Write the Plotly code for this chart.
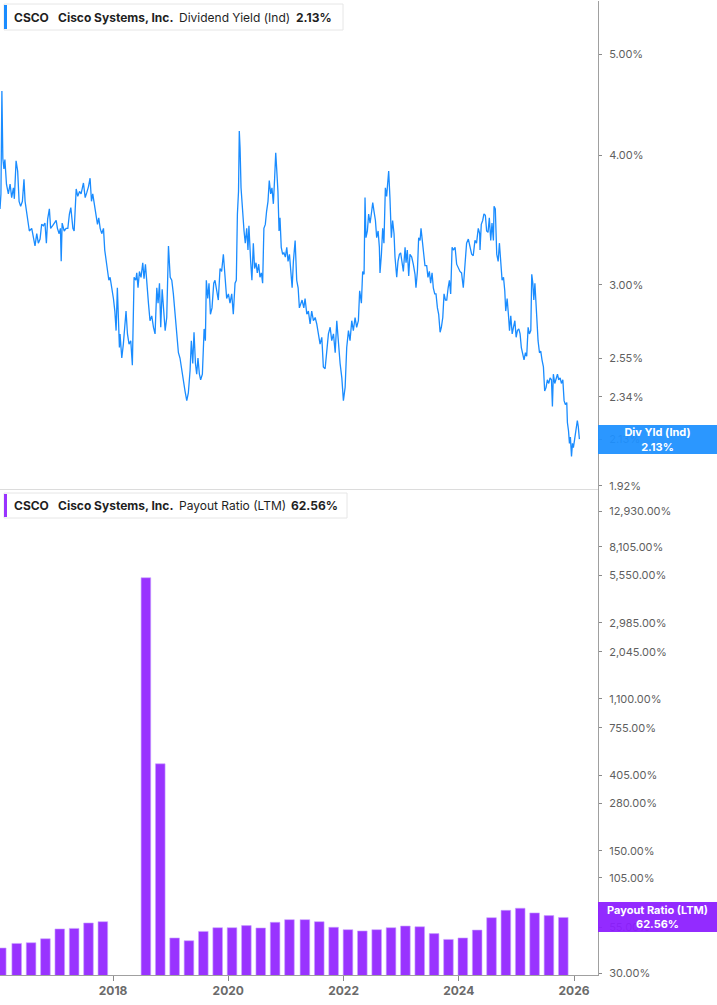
import math
import plotly.graph_objects as go

# ---------------- data ----------------
yield_dates = [
"2016-01-15","2016-01-21","2016-01-27","2016-02-02","2016-02-09","2016-02-15","2016-02-25","2016-03-08","2016-03-19","2016-03-29",
"2016-04-09","2016-04-15","2016-04-26","2016-05-06","2016-05-15","2016-05-25","2016-06-05","2016-06-15","2016-06-22","2016-07-07",
"2016-07-19","2016-08-03","2016-08-14","2016-08-24","2016-09-04","2016-09-14","2016-09-25","2016-10-05","2016-10-16","2016-10-26",
"2016-11-04","2016-11-12","2016-11-23","2016-12-01","2016-12-14","2016-12-23",
"2017-01-05","2017-01-13","2017-01-24","2017-02-01","2017-02-06","2017-02-12","2017-02-25","2017-03-09","2017-03-20","2017-03-30",
"2017-04-08","2017-04-21","2017-04-29","2017-05-12","2017-05-22","2017-06-02","2017-06-12","2017-06-27","2017-07-08","2017-07-18",
"2017-07-29","2017-08-08","2017-08-17","2017-08-25","2017-09-05","2017-09-16","2017-09-24","2017-10-02","2017-10-11","2017-10-21",
"2017-11-01","2017-11-09","2017-11-18","2017-11-26","2017-12-05","2017-12-13","2017-12-24",
"2018-01-03","2018-01-12","2018-01-20","2018-01-28","2018-02-04","2018-02-10","2018-02-14","2018-02-25","2018-03-07","2018-03-16",
"2018-03-24","2018-04-02","2018-04-12","2018-04-23","2018-05-03","2018-05-14","2018-05-25","2018-05-31","2018-06-08","2018-06-17",
"2018-06-27","2018-07-08","2018-07-16","2018-07-25","2018-08-02","2018-08-13","2018-08-23","2018-09-03","2018-09-14","2018-09-24",
"2018-10-05","2018-10-13","2018-10-22","2018-10-30","2018-11-08","2018-11-18","2018-11-27","2018-12-07","2018-12-18","2018-12-29",
"2019-01-08","2019-01-18","2019-01-29","2019-02-08","2019-02-19","2019-03-01","2019-03-12","2019-03-23","2019-04-02","2019-04-13",
"2019-04-23","2019-05-04","2019-05-12","2019-05-21","2019-05-29","2019-06-07","2019-06-15","2019-06-23","2019-07-02","2019-07-10",
"2019-07-21","2019-08-01","2019-08-09","2019-08-15","2019-08-24","2019-09-01","2019-09-10","2019-09-20","2019-10-01","2019-10-09",
"2019-10-20","2019-10-30","2019-11-10","2019-11-20","2019-12-01","2019-12-12","2019-12-22",
"2020-01-02","2020-01-12","2020-01-23","2020-02-02","2020-02-13","2020-02-21","2020-02-28","2020-03-06","2020-03-11","2020-03-16",
"2020-03-22","2020-04-01","2020-04-10","2020-04-18","2020-04-27","2020-05-05","2020-05-11","2020-05-22","2020-05-30","2020-06-08",
"2020-06-16","2020-06-25","2020-07-03","2020-07-12","2020-07-20","2020-07-29","2020-08-06","2020-08-14","2020-08-23","2020-08-31",
"2020-09-09","2020-09-17","2020-09-26","2020-10-04","2020-10-13","2020-10-21","2020-10-28","2020-11-03","2020-11-11","2020-11-18",
"2020-11-24","2020-12-02","2020-12-11","2020-12-19","2020-12-28",
"2021-01-06","2021-01-14","2021-01-23","2021-01-31","2021-02-09","2021-02-17","2021-02-28","2021-03-10","2021-03-19","2021-03-27",
"2021-04-05","2021-04-13","2021-04-24","2021-05-02","2021-05-13","2021-05-23","2021-06-03","2021-06-13","2021-06-24","2021-07-05",
"2021-07-15","2021-07-26","2021-08-05","2021-08-16","2021-08-26","2021-09-06","2021-09-17","2021-09-27","2021-10-08","2021-10-18",
"2021-10-29","2021-11-09","2021-11-19","2021-11-30","2021-12-10","2021-12-21","2021-12-31",
"2022-01-11","2022-01-21","2022-02-01","2022-02-11","2022-02-22","2022-03-04","2022-03-15","2022-03-25","2022-04-05","2022-04-13",
"2022-04-16","2022-04-24","2022-05-02","2022-05-11","2022-05-17","2022-05-23","2022-06-01","2022-06-09","2022-06-18","2022-06-26",
"2022-07-05","2022-07-13","2022-07-22","2022-07-30","2022-08-08","2022-08-16","2022-08-20","2022-08-29","2022-09-06","2022-09-14",
"2022-09-23","2022-10-01","2022-10-10","2022-10-14","2022-10-22","2022-10-31","2022-11-08","2022-11-17","2022-11-23","2022-12-04",
"2022-12-12","2022-12-21","2022-12-29",
"2023-01-07","2023-01-15","2023-01-26","2023-02-01","2023-02-09","2023-02-18","2023-02-26","2023-03-09","2023-03-19","2023-03-30",
"2023-04-05","2023-04-14","2023-04-22","2023-05-01","2023-05-07","2023-05-15","2023-05-22","2023-06-01","2023-06-12","2023-06-20",
"2023-06-29","2023-07-07","2023-07-16","2023-07-24","2023-08-02","2023-08-10","2023-08-19","2023-08-27","2023-09-05","2023-09-13",
"2023-09-22","2023-09-30","2023-10-09","2023-10-17","2023-10-26","2023-11-03","2023-11-11","2023-11-20","2023-11-28","2023-12-09",
"2023-12-19","2023-12-30",
"2024-01-09","2024-01-19","2024-01-30","2024-02-10","2024-02-20","2024-03-02","2024-03-12","2024-03-23","2024-04-02","2024-04-13",
"2024-04-23","2024-05-04","2024-05-13","2024-05-15","2024-05-23","2024-06-01","2024-06-09","2024-06-18","2024-06-26","2024-07-05",
"2024-07-13","2024-07-22","2024-07-30","2024-08-08","2024-08-12","2024-08-20","2024-08-29","2024-09-07","2024-09-15","2024-09-24",
"2024-10-02","2024-10-11","2024-10-19","2024-10-25","2024-11-03","2024-11-11","2024-11-18","2024-11-26","2024-12-05","2024-12-13",
"2024-12-22","2024-12-30",
"2025-01-07","2025-01-16","2025-01-24","2025-02-01","2025-02-10","2025-02-18","2025-02-27","2025-03-07","2025-03-16","2025-03-24",
"2025-04-02","2025-04-04","2025-04-08","2025-04-15","2025-04-21","2025-04-28","2025-05-09","2025-05-18","2025-05-27","2025-06-04",
"2025-06-12","2025-06-21","2025-06-29","2025-07-08","2025-07-16","2025-07-25","2025-08-02","2025-08-11","2025-08-17","2025-08-23",
"2025-09-01","2025-09-09","2025-09-18","2025-09-26","2025-10-05","2025-10-13","2025-10-22","2025-10-30","2025-11-07","2025-11-16",
"2025-11-20","2025-11-27","2025-12-03","2025-12-09","2025-12-16","2025-12-22","2025-12-28",
"2026-01-05","2026-01-14","2026-01-22","2026-01-28","2026-02-04"]

yield_values = [
3.55,3.67,4.61,3.97,3.88,3.96,3.75,3.67,3.75,3.64,
3.72,3.63,3.95,3.86,3.61,3.57,3.61,3.79,3.61,3.48,
3.38,3.40,3.34,3.27,3.36,3.29,3.32,3.43,3.42,3.44,
3.29,3.47,3.55,3.40,3.42,3.44,
3.46,3.40,3.36,3.40,3.16,3.44,3.38,3.40,3.40,3.51,
3.56,3.40,3.38,3.71,3.65,3.69,3.67,3.76,3.64,3.68,
3.73,3.80,3.61,3.67,3.59,3.48,3.43,3.48,3.40,3.36,
3.40,3.24,3.16,3.08,3.03,3.05,2.98,
2.91,2.83,2.71,2.98,2.81,2.61,2.69,2.55,2.63,2.73,
2.83,2.69,2.63,2.65,2.51,3.05,3.03,3.08,2.98,3.09,
3.05,3.15,3.04,3.14,3.01,2.88,2.77,2.80,2.73,2.69,
2.98,2.88,3.01,2.73,2.97,2.83,2.71,2.79,3.27,3.05,
3.03,2.94,2.81,2.67,2.58,2.55,2.48,2.43,2.37,2.32,
2.36,2.48,2.65,2.52,2.70,2.52,2.46,2.55,2.46,2.43,
2.46,2.72,2.65,3.03,2.91,3.01,2.81,2.85,3.01,3.03,
2.96,2.90,3.11,3.09,3.21,3.05,2.91,
2.94,2.88,2.94,2.81,3.01,3.03,3.51,3.69,4.22,4.06,
3.72,3.51,3.38,3.29,3.40,3.24,3.42,3.16,3.03,3.29,
3.11,3.15,3.08,3.14,3.05,3.08,3.01,3.40,3.43,3.53,
3.61,3.78,3.67,3.72,3.59,3.80,4.02,3.88,3.69,3.38,
3.48,3.26,3.21,3.22,3.19,
3.26,3.16,3.21,3.11,2.98,3.16,3.31,3.03,2.98,2.85,
2.88,2.90,2.85,2.91,2.81,2.83,2.75,2.83,2.77,2.79,
2.75,2.67,2.63,2.67,2.50,2.49,2.59,2.69,2.73,2.65,
2.69,2.58,2.77,2.63,2.52,2.44,2.32,
2.39,2.61,2.71,2.65,2.77,2.71,2.79,2.73,2.77,2.96,
2.94,2.88,3.09,3.07,3.64,3.33,3.38,3.51,3.44,3.51,
3.60,3.53,3.46,3.33,3.38,3.26,3.08,3.21,3.40,3.29,
3.72,3.65,3.80,3.86,3.64,3.33,3.46,3.36,3.19,3.05,
3.16,3.21,3.22,
3.14,3.09,3.26,3.15,3.24,3.06,3.21,3.19,3.14,3.07,
2.98,3.09,3.33,3.31,3.40,3.31,3.21,3.13,3.13,3.05,
3.09,3.01,3.08,2.98,2.94,2.94,2.85,2.81,2.70,2.73,
2.79,2.94,2.90,2.90,2.98,3.03,2.94,3.26,3.24,3.26,
3.14,3.11,
3.09,3.08,2.98,3.14,3.29,3.32,3.26,3.21,3.20,3.31,
3.29,3.40,3.36,3.24,3.43,3.46,3.51,3.50,3.38,3.37,
3.48,3.31,3.44,3.31,3.57,3.55,3.21,3.16,3.29,3.16,
3.03,3.05,2.96,2.83,2.91,2.81,2.71,2.80,2.69,2.73,
2.77,2.67,
2.71,2.72,2.69,2.61,2.58,2.54,2.58,2.56,2.73,2.69,
2.71,2.83,3.07,3.01,2.90,3.01,2.77,2.65,2.58,2.59,
2.54,2.50,2.37,2.39,2.43,2.41,2.44,2.43,2.29,2.46,
2.41,2.44,2.46,2.43,2.44,2.41,2.43,2.32,2.30,2.31,
2.21,2.17,2.11,2.14,2.05,2.11,2.09,
2.13,2.17,2.22,2.19,2.13]

payout_dates = [
"2016-01-23","2016-04-30","2016-07-30","2016-10-29","2017-01-28","2017-04-29","2017-07-29","2017-10-28",
"2018-07-28","2018-10-27",
"2019-01-26","2019-04-27","2019-07-27","2019-10-26","2020-01-25","2020-04-25","2020-07-25","2020-10-24",
"2021-01-23","2021-05-01","2021-07-31","2021-10-30","2022-01-29","2022-04-30","2022-07-30","2022-10-29",
"2023-01-28","2023-04-29","2023-07-29","2023-10-28","2024-01-27","2024-04-27","2024-07-27","2024-10-26",
"2025-01-25","2025-04-26","2025-07-26","2025-10-25"]
payout_values = [
41.9,44.5,44.9,47.3,53.8,54.2,58.2,59.2,
5400.0,470.0,
47.8,46.1,52.1,54.7,54.7,56.2,54.5,58.7,
60.8,60.8,59.2,55.0,53.3,52.4,53.3,54.7,
55.9,55.4,50.6,46.9,47.8,53.0,62.4,68.7,
70.6,66.4,64.1,62.56]

yield_ticks = [5.00, 4.00, 3.00, 2.55, 2.34, 2.13, 1.92]
payout_ticks = [12930, 8105, 5550, 2985, 2045, 1100, 755, 405, 280, 150, 105, 55, 30]
year_ticks = ["2018-01-01", "2020-01-01", "2022-01-01", "2024-01-01", "2026-01-01"]
year_labels = ["2018", "2020", "2022", "2024", "2026"]

last_yield = 2.13
last_payout = 62.56

# ---------------- layout constants ----------------
W, H = 717, 1005
PLOT_R = 598          # right edge of plot area (px)
PLOT_T = 1            # top of plot area (px)
PLOT_B = 975          # bottom of plot area (px)
SPLIT = 489           # panel separator (px from top)
FONT = "Inter"
BLUE = "#1a8cff"
PURPLE = "#9933ff"

def px(x):
    return x / PLOT_R

def py(y):
    return (PLOT_B - y) / (PLOT_B - PLOT_T)

split_frac = py(SPLIT)

fig = go.Figure()

fig.add_trace(go.Scatter(
    x=yield_dates, y=yield_values, mode="lines",
    line=dict(color=BLUE, width=1.3),
    xaxis="x", yaxis="y", showlegend=False, hoverinfo="skip"))

fig.add_trace(go.Bar(
    x=payout_dates, y=payout_values,
    width=61 * 86400000,
    marker=dict(color=PURPLE, line=dict(color="#c9a3ff", width=0.6)),
    xaxis="x2", yaxis="y2", showlegend=False, hoverinfo="skip"))

xrange = ["2016-01-15", "2026-06-02"]

fig.update_layout(
    width=W, height=H,
    margin=dict(l=0, r=W - PLOT_R, t=PLOT_T, b=H - PLOT_B),
    paper_bgcolor="white", plot_bgcolor="white",
    font=dict(family=FONT, size=11, color="#5f5f5f"),
    xaxis=dict(domain=[0, 1], range=xrange, type="date", anchor="y",
               matches="x2", showticklabels=False, ticks="",
               showgrid=False, zeroline=False,
               showline=True, linecolor="#dcdcdc", linewidth=1),
    xaxis2=dict(domain=[0, 1], range=xrange, type="date", anchor="y2",
                tickmode="array", tickvals=year_ticks, ticktext=year_labels,
                ticks="outside", ticklen=5, tickcolor="#8a8a8a",
                tickfont=dict(family=FONT, size=12, color="#6a6a6a", weight=700),
                showgrid=False, zeroline=False,
                showline=True, linecolor="#a0a0a0", linewidth=1),
    yaxis=dict(domain=[split_frac, 1], type="log",
               range=[math.log10(1.907), math.log10(5.63)],
               side="right", anchor="x",
               tickmode="array", tickvals=yield_ticks,
               ticktext=[f"{v:.2f}%" for v in yield_ticks],
               ticks="outside", ticklen=3, tickcolor="#8a8a8a",
               ticklabelstandoff=5,
               tickfont=dict(family=FONT, size=11, color="#5f5f5f"),
               showgrid=False, zeroline=False,
               showline=True, linecolor="#a0a0a0", linewidth=1),
    yaxis2=dict(domain=[0, split_frac], type="log",
                range=[math.log10(29.4), math.log10(17300)],
                side="right", anchor="x2",
                tickmode="array", tickvals=payout_ticks,
                ticktext=[f"{v:,.2f}%" for v in payout_ticks],
                ticks="outside", ticklen=3, tickcolor="#8a8a8a",
                ticklabelstandoff=5,
                tickfont=dict(family=FONT, size=11, color="#5f5f5f"),
                showgrid=False, zeroline=False,
                showline=True, linecolor="#a0a0a0", linewidth=1),
)

shapes = []
annotations = []

def legend_box(top, bottom, right, color, pieces):
    shapes.append(dict(type="rect", xref="paper", yref="paper",
                       x0=px(4), x1=px(right), y0=py(bottom), y1=py(top),
                       line=dict(color="#e6e6e6", width=1), fillcolor="white",
                       layer="above"))
    shapes.append(dict(type="rect", xref="paper", yref="paper",
                       x0=px(4), x1=px(7), y0=py(bottom - 1), y1=py(top + 1),
                       line=dict(width=0), fillcolor=color, layer="above"))
    mid = (top + bottom) / 2
    for x, text, bold in pieces:
        annotations.append(dict(
            xref="paper", yref="paper", x=px(x), y=py(mid),
            xanchor="left", yanchor="middle", showarrow=False,
            text=f"<b>{text}</b>" if bold else text,
            font=dict(family=FONT, size=12, color="#1f1f1f")))

legend_box(4, 30, 343, BLUE, [
    (12, "CSCO", True), (56, "Cisco Systems, Inc.", True),
    (177, "Dividend Yield (Ind)", False), (294, f"{last_yield:.2f}%", True)])
legend_box(493, 518, 347, PURPLE, [
    (12, "CSCO", True), (56, "Cisco Systems, Inc.", True),
    (177, "Payout Ratio (LTM)", False), (289, f"{last_payout:.2f}%", True)])

# value flags on the right axis
annotations.append(dict(
    xref="paper", yref="y", x=1, y=math.log10(last_yield),
    xanchor="left", yanchor="middle", showarrow=False,
    text=f"<b>Div Yld (Ind)</b><br><b>{last_yield:.2f}%</b>",
    width=W - PLOT_R, height=29, borderpad=0, borderwidth=0,
    bgcolor="rgba(30,144,255,0.94)", align="center",
    font=dict(family=FONT, size=11, color="white")))
annotations.append(dict(
    xref="paper", yref="y2", x=1, y=math.log10(last_payout),
    xanchor="left", yanchor="middle", showarrow=False,
    text=f"<b>Payout Ratio (LTM)</b><br><b>{last_payout:.2f}%</b>",
    width=W - PLOT_R, height=30, borderpad=0, borderwidth=0,
    bgcolor="rgba(140,30,255,0.94)", align="center",
    font=dict(family=FONT, size=11, color="white")))

fig.update_layout(shapes=shapes, annotations=annotations)

fig.write_html("out.html",
               config={"displayModeBar": False, "staticPlot": True},
               post_script="document.body.style.margin='0';document.body.style.overflow='hidden';")
